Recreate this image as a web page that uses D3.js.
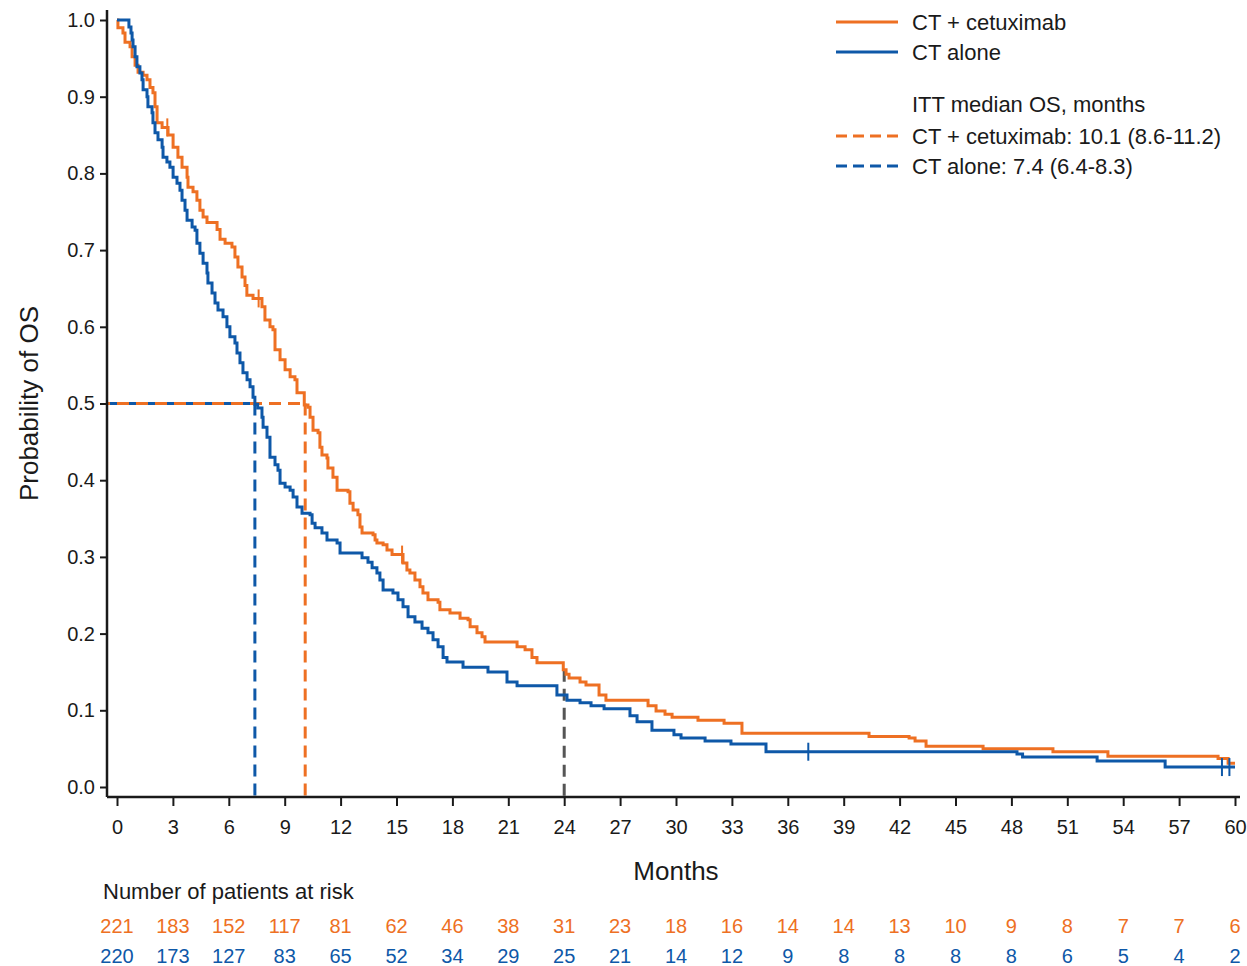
<!DOCTYPE html>
<html>
<head>
<meta charset="utf-8">
<script src="https://cdn.jsdelivr.net/npm/d3@7"></script>
<style>
  body { margin: 0; background: #fff; }
  svg { font-family: "Liberation Sans", Arial, sans-serif; }
</style>
</head>
<body>
<svg width="1247" height="966"></svg>
<script>
// Kaplan-Meier: момент шага (мес.) и доля выживших после шага
const cetuxTime = [0, 0.05, 0.32, 0.43, 0.70, 0.81, 0.97, 1.13, 1.40, 1.61, 1.77, 1.93, 2.04, 2.15, 2.42, 2.74,
  3.01, 3.27, 3.49, 3.76, 3.81, 4.08, 4.29, 4.45, 4.62, 4.83, 5.37, 5.53, 5.80, 6.17, 6.33, 6.49, 6.71, 6.87,
  6.97, 7.30, 7.78, 7.94, 8.21, 8.37, 8.48, 8.75, 9.02, 9.29, 9.55, 9.66, 10.05, 10.25, 10.36, 10.52, 10.79,
  10.89, 11.00, 11.27, 11.32, 11.59, 11.81, 12.40, 12.50, 12.67, 12.93, 13.04, 13.15, 13.74, 13.85, 13.95,
  14.28, 14.49, 14.76, 15.35, 15.56, 15.72, 15.99, 16.26, 16.42, 16.69, 17.23, 17.33, 17.87, 18.41, 18.84,
  18.95, 19.32, 19.59, 19.75, 21.47, 21.90, 22.27, 22.54, 23.95, 24.10, 24.26, 24.85, 25.17, 25.87, 26.24,
  28.50, 28.93, 29.41, 29.79, 31.18, 32.58, 33.54, 40.36, 42.51, 42.83, 43.42, 46.48, 50.23, 53.18, 59.09, 59.63];
const cetuxSurv = [1.000, 0.990, 0.983, 0.971, 0.965, 0.952, 0.941, 0.932, 0.928, 0.922, 0.912, 0.905, 0.887, 0.866, 0.860, 0.850,
  0.834, 0.821, 0.808, 0.795, 0.782, 0.776, 0.765, 0.752, 0.743, 0.736, 0.727, 0.714, 0.709, 0.704, 0.691, 0.678, 0.665, 0.654,
  0.641, 0.637, 0.626, 0.609, 0.600, 0.596, 0.570, 0.557, 0.544, 0.535, 0.531, 0.514, 0.498, 0.495, 0.482, 0.465, 0.462,
  0.443, 0.433, 0.429, 0.416, 0.404, 0.387, 0.385, 0.370, 0.361, 0.355, 0.339, 0.331, 0.329, 0.322, 0.318,
  0.316, 0.309, 0.303, 0.292, 0.283, 0.279, 0.270, 0.261, 0.253, 0.244, 0.241, 0.231, 0.227, 0.220, 0.218,
  0.209, 0.201, 0.196, 0.189, 0.183, 0.179, 0.169, 0.162, 0.153, 0.147, 0.142, 0.137, 0.133, 0.120, 0.113,
  0.106, 0.099, 0.095, 0.091, 0.087, 0.083, 0.070, 0.066, 0.064, 0.060, 0.053, 0.050, 0.046, 0.040, 0.037, 0.031];

const aloneTime = [0, 0.64, 0.75, 0.81, 0.86, 0.97, 1.07, 1.23, 1.34, 1.40, 1.61, 1.66, 1.88, 1.93, 2.04, 2.20,
  2.42, 2.47, 2.68, 2.84, 3.01, 3.22, 3.38, 3.49, 3.65, 3.76, 4.03, 4.19, 4.29, 4.45, 4.62, 4.83, 4.88, 5.10,
  5.26, 5.42, 5.69, 5.90, 6.06, 6.33, 6.44, 6.60, 6.76, 6.98, 7.14, 7.30, 7.40, 7.55, 7.78, 7.84, 8.05, 8.21,
  8.48, 8.64, 8.75, 9.02, 9.29, 9.45, 9.66, 9.93, 10.36, 10.47, 10.63, 11.00, 11.27, 11.81, 11.97, 13.15,
  13.47, 13.69, 13.95, 14.11, 14.28, 14.81, 15.08, 15.35, 15.62, 15.99, 16.37, 16.69, 16.96, 17.23, 17.50,
  17.71, 18.57, 19.91, 20.93, 21.47, 23.61, 24.15, 24.85, 25.44, 26.14, 27.53, 27.91, 28.71, 29.89, 30.27,
  31.56, 32.95, 34.83, 48.30, 48.60, 52.60, 56.25];
const aloneSurv = [1.000, 0.991, 0.983, 0.974, 0.965, 0.952, 0.939, 0.931, 0.922, 0.909, 0.900, 0.887, 0.879, 0.866, 0.853, 0.844,
  0.834, 0.821, 0.815, 0.808, 0.795, 0.787, 0.778, 0.765, 0.752, 0.739, 0.730, 0.726, 0.709, 0.696, 0.683, 0.670, 0.657, 0.644,
  0.631, 0.622, 0.613, 0.600, 0.587, 0.579, 0.566, 0.553, 0.540, 0.531, 0.522, 0.508, 0.499, 0.494, 0.482, 0.469, 0.456, 0.430,
  0.420, 0.413, 0.396, 0.391, 0.387, 0.378, 0.365, 0.357, 0.355, 0.344, 0.338, 0.331, 0.322, 0.318, 0.305, 0.299,
  0.293, 0.286, 0.279, 0.270, 0.257, 0.253, 0.244, 0.235, 0.222, 0.215, 0.207, 0.201, 0.192, 0.183, 0.169,
  0.163, 0.156, 0.150, 0.137, 0.132, 0.120, 0.113, 0.110, 0.106, 0.102, 0.093, 0.085, 0.074, 0.068, 0.064,
  0.060, 0.056, 0.046, 0.043, 0.039, 0.034, 0.026];

// цензурированные наблюдения
const cetuxCensor = [2.7, 7.6, 15.3];
const aloneCensor = [37.1, 59.3, 59.7];

const followUpEnd = 60;
const medianCetux = 10.1;
const medianAlone = 7.4;
const landmark = 24;

const xTicks = [0, 3, 6, 9, 12, 15, 18, 21, 24, 27, 30, 33, 36, 39, 42, 45, 48, 51, 54, 57, 60];
const yTicks = [0, 0.1, 0.2, 0.3, 0.4, 0.5, 0.6, 0.7, 0.8, 0.9, 1.0];

const riskCetux = [221, 183, 152, 117, 81, 62, 46, 38, 31, 23, 18, 16, 14, 14, 13, 10, 9, 8, 7, 7, 6];
const riskAlone = [220, 173, 127, 83, 65, 52, 34, 29, 25, 21, 14, 12, 9, 8, 8, 8, 8, 6, 5, 4, 2];

const legendItems = ["CT + cetuximab", "CT alone"];
const legendTitle = "ITT median OS, months";
const legendMedians = ["CT + cetuximab: 10.1 (8.6-11.2)", "CT alone: 7.4 (6.4-8.3)"];

const orange = "#EE7023";
const blue = "#0E58A8";
const grey = "#555555";
const ink = "#1a1a1a";

let svg = d3.select("svg");

const area = { left: 117, right: 1235, top: 20, bottom: 787, axisX: 107, axisY: 797 };

const scX = d3.scaleLinear().domain([0, 60]).range([area.left, area.right]);
const scY = d3.scaleLinear().domain([0, 1]).range([area.bottom, area.top]);

function stepPoints(times, surv) {
    let pts = times.map((t, i) => [t, surv[i]]);
    pts.push([followUpEnd, surv[surv.length - 1]]);
    return pts;
}

function survAt(times, surv, t) {
    let i = d3.bisectRight(times, t) - 1;
    return surv[Math.max(0, i)];
}

// оси
function drawAxes() {
    let axisX = d3.axisBottom(scX).tickValues(xTicks).tickSize(9).tickSizeOuter(0).tickPadding(14);
    let gx = svg.append("g")
        .attr("transform", `translate(0, ${area.axisY})`)
        .call(axisX);
    gx.select(".domain").remove();
    gx.selectAll("line").attr("stroke", ink).attr("stroke-width", 2);
    gx.selectAll("text").attr("font-size", 20).attr("fill", ink).attr("font-family", "Liberation Sans");

    let axisY = d3.axisLeft(scY).tickValues(yTicks).tickFormat(d3.format(".1f")).tickSize(7).tickSizeOuter(0).tickPadding(5);
    let gy = svg.append("g")
        .attr("transform", `translate(${area.axisX}, 0)`)
        .call(axisY);
    gy.select(".domain").remove();
    gy.selectAll("line").attr("stroke", ink).attr("stroke-width", 2);
    gy.selectAll("text").attr("font-size", 20).attr("fill", ink).attr("font-family", "Liberation Sans");

    svg.append("line")
        .attr("x1", area.axisX).attr("x2", scX(60) + 5)
        .attr("y1", area.axisY).attr("y2", area.axisY)
        .attr("stroke", ink).attr("stroke-width", 2.5);
    svg.append("line")
        .attr("x1", area.axisX).attr("x2", area.axisX)
        .attr("y1", scY(1) - 10).attr("y2", area.axisY)
        .attr("stroke", ink).attr("stroke-width", 2.5);

    svg.append("text")
        .attr("x", (area.left + area.right) / 2 + 0)
        .attr("y", 880)
        .attr("text-anchor", "middle")
        .attr("font-size", 26)
        .attr("fill", ink)
        .text("Months");

    svg.append("text")
        .attr("transform", `translate(38, ${scY(0.5)}) rotate(-90)`)
        .attr("text-anchor", "middle")
        .attr("font-size", 26)
        .attr("fill", ink)
        .text("Probability of OS");
}

// пунктир медиан и 24 мес.
function drawGuides() {
    const dash = "12,7";
    const guides = [
        { t: medianAlone, color: blue, offset: 0 },
        { t: medianCetux, color: orange, offset: 9 }
    ];
    guides.forEach(g => {
        svg.append("line")
            .attr("x1", area.axisX).attr("x2", scX(g.t))
            .attr("y1", scY(0.5)).attr("y2", scY(0.5))
            .attr("stroke", g.color).attr("stroke-width", 3)
            .attr("stroke-dasharray", dash).attr("stroke-dashoffset", g.offset);
        svg.append("line")
            .attr("x1", scX(g.t)).attr("x2", scX(g.t))
            .attr("y1", scY(0.5)).attr("y2", area.axisY)
            .attr("stroke", g.color).attr("stroke-width", 3)
            .attr("stroke-dasharray", dash);
    });
    svg.append("line")
        .attr("x1", scX(landmark)).attr("x2", scX(landmark))
        .attr("y1", scY(survAt(cetuxTime, cetuxSurv, landmark))).attr("y2", area.axisY)
        .attr("stroke", grey).attr("stroke-width", 3)
        .attr("stroke-dasharray", dash);
}

function drawCurve(times, surv, censor, color) {
    let line = d3.line()
        .x(d => scX(d[0]))
        .y(d => scY(d[1]))
        .curve(d3.curveStepAfter);
    svg.append("path")
        .datum(stepPoints(times, surv))
        .attr("d", line)
        .attr("fill", "none")
        .attr("stroke", color)
        .attr("stroke-width", 3);
    svg.selectAll(null)
        .data(censor)
        .enter()
        .append("line")
        .attr("x1", d => scX(d)).attr("x2", d => scX(d))
        .attr("y1", d => scY(survAt(times, surv, d)) - 9)
        .attr("y2", d => scY(survAt(times, surv, d)) + 9)
        .attr("stroke", color)
        .attr("stroke-width", 2);
}

function drawLegend() {
    const lx = 836, lw = 62, tx = 912;
    const rows = [
        { y: 22, text: legendItems[0], color: orange, dash: null },
        { y: 52, text: legendItems[1], color: blue, dash: null },
        { y: 104, text: legendTitle, color: null, dash: null },
        { y: 136, text: legendMedians[0], color: orange, dash: "11,6" },
        { y: 166, text: legendMedians[1], color: blue, dash: "11,6" }
    ];
    let g = svg.append("g");
    rows.forEach(r => {
        if (r.color) {
            g.append("line")
                .attr("x1", lx).attr("x2", lx + lw)
                .attr("y1", r.y).attr("y2", r.y)
                .attr("stroke", r.color).attr("stroke-width", 3)
                .attr("stroke-dasharray", r.dash);
        }
        g.append("text")
            .attr("x", tx).attr("y", r.y)
            .attr("dy", "0.35em")
            .attr("font-size", 22)
            .attr("fill", ink)
            .text(r.text);
    });
}

function drawRiskTable() {
    svg.append("text")
        .attr("x", 103).attr("y", 891)
        .attr("dy", "0.35em")
        .attr("font-size", 22)
        .attr("fill", ink)
        .text("Number of patients at risk");
    [[riskCetux, orange, 926], [riskAlone, blue, 956]].forEach(([vals, color, yy]) => {
        svg.append("g").selectAll("text")
            .data(vals)
            .enter()
            .append("text")
            .attr("x", (d, i) => scX(xTicks[i]))
            .attr("y", yy)
            .attr("dy", "0.35em")
            .attr("text-anchor", "middle")
            .attr("font-size", 20)
            .attr("fill", color)
            .text(d => d);
    });
}

drawGuides();
drawCurve(cetuxTime, cetuxSurv, cetuxCensor, orange);
drawCurve(aloneTime, aloneSurv, aloneCensor, blue);
drawAxes();
drawLegend();
drawRiskTable();
</script>
</body>
</html>
